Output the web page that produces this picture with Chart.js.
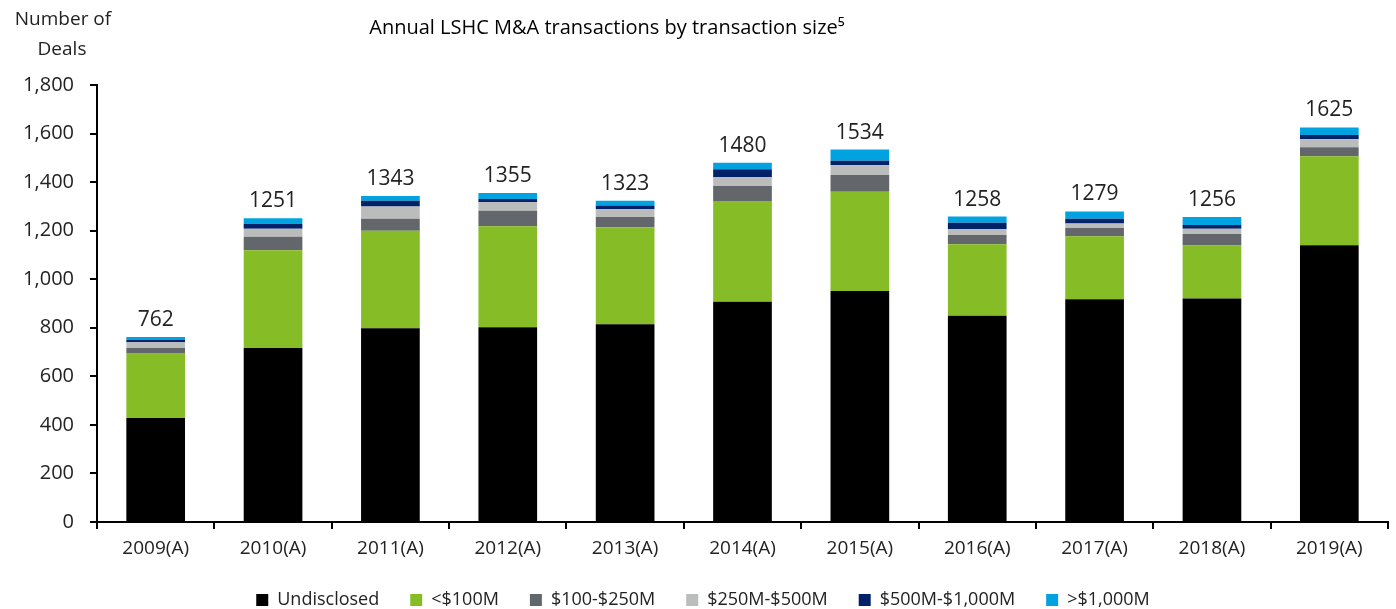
<!DOCTYPE html>
<html>
<head>
<meta charset="utf-8">
<script src="https://cdn.jsdelivr.net/npm/chart.js@4.4.1/dist/chart.umd.min.js"></script>
<style>
  html, body { margin: 0; padding: 0; background: #fff; }
  #wrap { width: 1396px; height: 609px; }
</style>
</head>
<body>
<div id="wrap"><canvas id="myChart" width="1396" height="609"></canvas></div>
<script>
// Chart data
const years = ['2009(A)', '2010(A)', '2011(A)', '2012(A)', '2013(A)', '2014(A)',
  '2015(A)', '2016(A)', '2017(A)', '2018(A)', '2019(A)'];
const undisclosed = [428, 717, 798, 802, 815, 907, 951, 850, 917, 921, 1140];
const under100 = [268, 402, 402, 416, 399, 415, 409, 294, 260, 218, 367];
const from100to250 = [21, 56, 49, 64, 42, 62, 69, 38, 34, 47, 37];
const from250to500 = [23, 33, 51, 35, 33, 37, 40, 25, 19, 22, 33];
const from500to1000 = [10, 21, 23, 13, 15, 32, 19, 26, 19, 15, 17];
const over1000 = [12, 22, 20, 25, 19, 27, 46, 25, 30, 33, 31];
const totals = [762, 1251, 1343, 1355, 1323, 1480, 1534, 1258, 1279, 1256, 1625];
const yTicks = [0, 200, 400, 600, 800, 1000, 1200, 1400, 1600, 1800];

const FONT = "'Open Sans', 'Noto Sans', sans-serif";
const TEXT = '#222222';
const PAD = { top: 85, left: 18, right: 8, bottom: -10 };

// totals above each stack
const totalLabels = {
  id: 'totalLabels',
  afterDatasetsDraw(chart) {
    const ctx = chart.ctx;
    const top = chart.getDatasetMeta(chart.data.datasets.length - 1);
    ctx.save();
    ctx.font = '21px ' + FONT;
    ctx.fillStyle = TEXT;
    ctx.textAlign = 'center';
    ctx.textBaseline = 'middle';
    top.data.forEach((bar, i) => {
      ctx.fillText(String(totals[i]), bar.x, bar.y - 17);
    });
    ctx.restore();
  }
};

// chart title and the "Number of Deals" caption over the y axis
const captions = {
  id: 'captions',
  afterDraw(chart) {
    const ctx = chart.ctx;
    ctx.save();
    ctx.textAlign = 'center';
    ctx.textBaseline = 'middle';
    ctx.fillStyle = '#000000';
    ctx.font = '20px ' + FONT;
    ctx.fillText('Annual LSHC M&A transactions by transaction size⁵', 607, 28);
    ctx.fillStyle = TEXT;
    ctx.font = '19px ' + FONT;
    ctx.fillText('Number of', 63, 20);
    ctx.fillText('Deals', 62, 50);
    ctx.restore();
  }
};

const ctx = document.getElementById('myChart').getContext('2d');
new Chart(ctx, {
  type: 'bar',
  data: {
    labels: years,
    datasets: [
      { label: 'Undisclosed', data: undisclosed, backgroundColor: '#000000' },
      { label: '<$100M', data: under100, backgroundColor: '#86BC25' },
      { label: '$100-$250M', data: from100to250, backgroundColor: '#63666A' },
      { label: '$250M-$500M', data: from250to500, backgroundColor: '#BBBCBC' },
      { label: '$500M-$1,000M', data: from500to1000, backgroundColor: '#012169' },
      { label: '>$1,000M', data: over1000, backgroundColor: '#00A3E0' },
    ],
  },
  plugins: [totalLabels, captions],
  options: {
    responsive: false,
    animation: false,
    layout: { padding: PAD },
    datasets: {
      bar: { barPercentage: 0.5, categoryPercentage: 1.0, borderWidth: 0 },
    },
    plugins: {
      tooltip: { enabled: false },
      title: { display: false },
      legend: {
        position: 'bottom',
        labels: {
          color: TEXT,
          font: { family: FONT, size: 18 },
          boxWidth: 12,
          boxHeight: 12,
          padding: 31,
        },
      },
    },
    scales: {
      x: {
        stacked: true,
        grid: { drawOnChartArea: false, drawTicks: true, tickLength: 7, color: '#000', lineWidth: 2 },
        border: { display: true, color: '#000', width: 2 },
        ticks: { color: TEXT, font: { family: FONT, size: 19 }, padding: 8, maxRotation: 0 },
        afterFit(s) {
          s.height = s.chart.height - 522 - s.chart.legend.height - PAD.bottom;
        },
      },
      y: {
        stacked: true,
        min: 0,
        max: 1800,
        afterBuildTicks(s) {
          s.ticks = yTicks.map((v) => ({ value: v }));
        },
        grid: { drawOnChartArea: false, drawTicks: true, tickLength: 7, color: '#000', lineWidth: 2 },
        border: { display: true, color: '#000', width: 2 },
        ticks: {
          color: TEXT,
          font: { family: FONT, size: 20 },
          padding: 16,
          callback: (v) => v.toLocaleString('en-US'),
        },
        afterFit(s) {
          s.width = 97 - PAD.left;
        },
      },
    },
  },
});
</script>
</body>
</html>
